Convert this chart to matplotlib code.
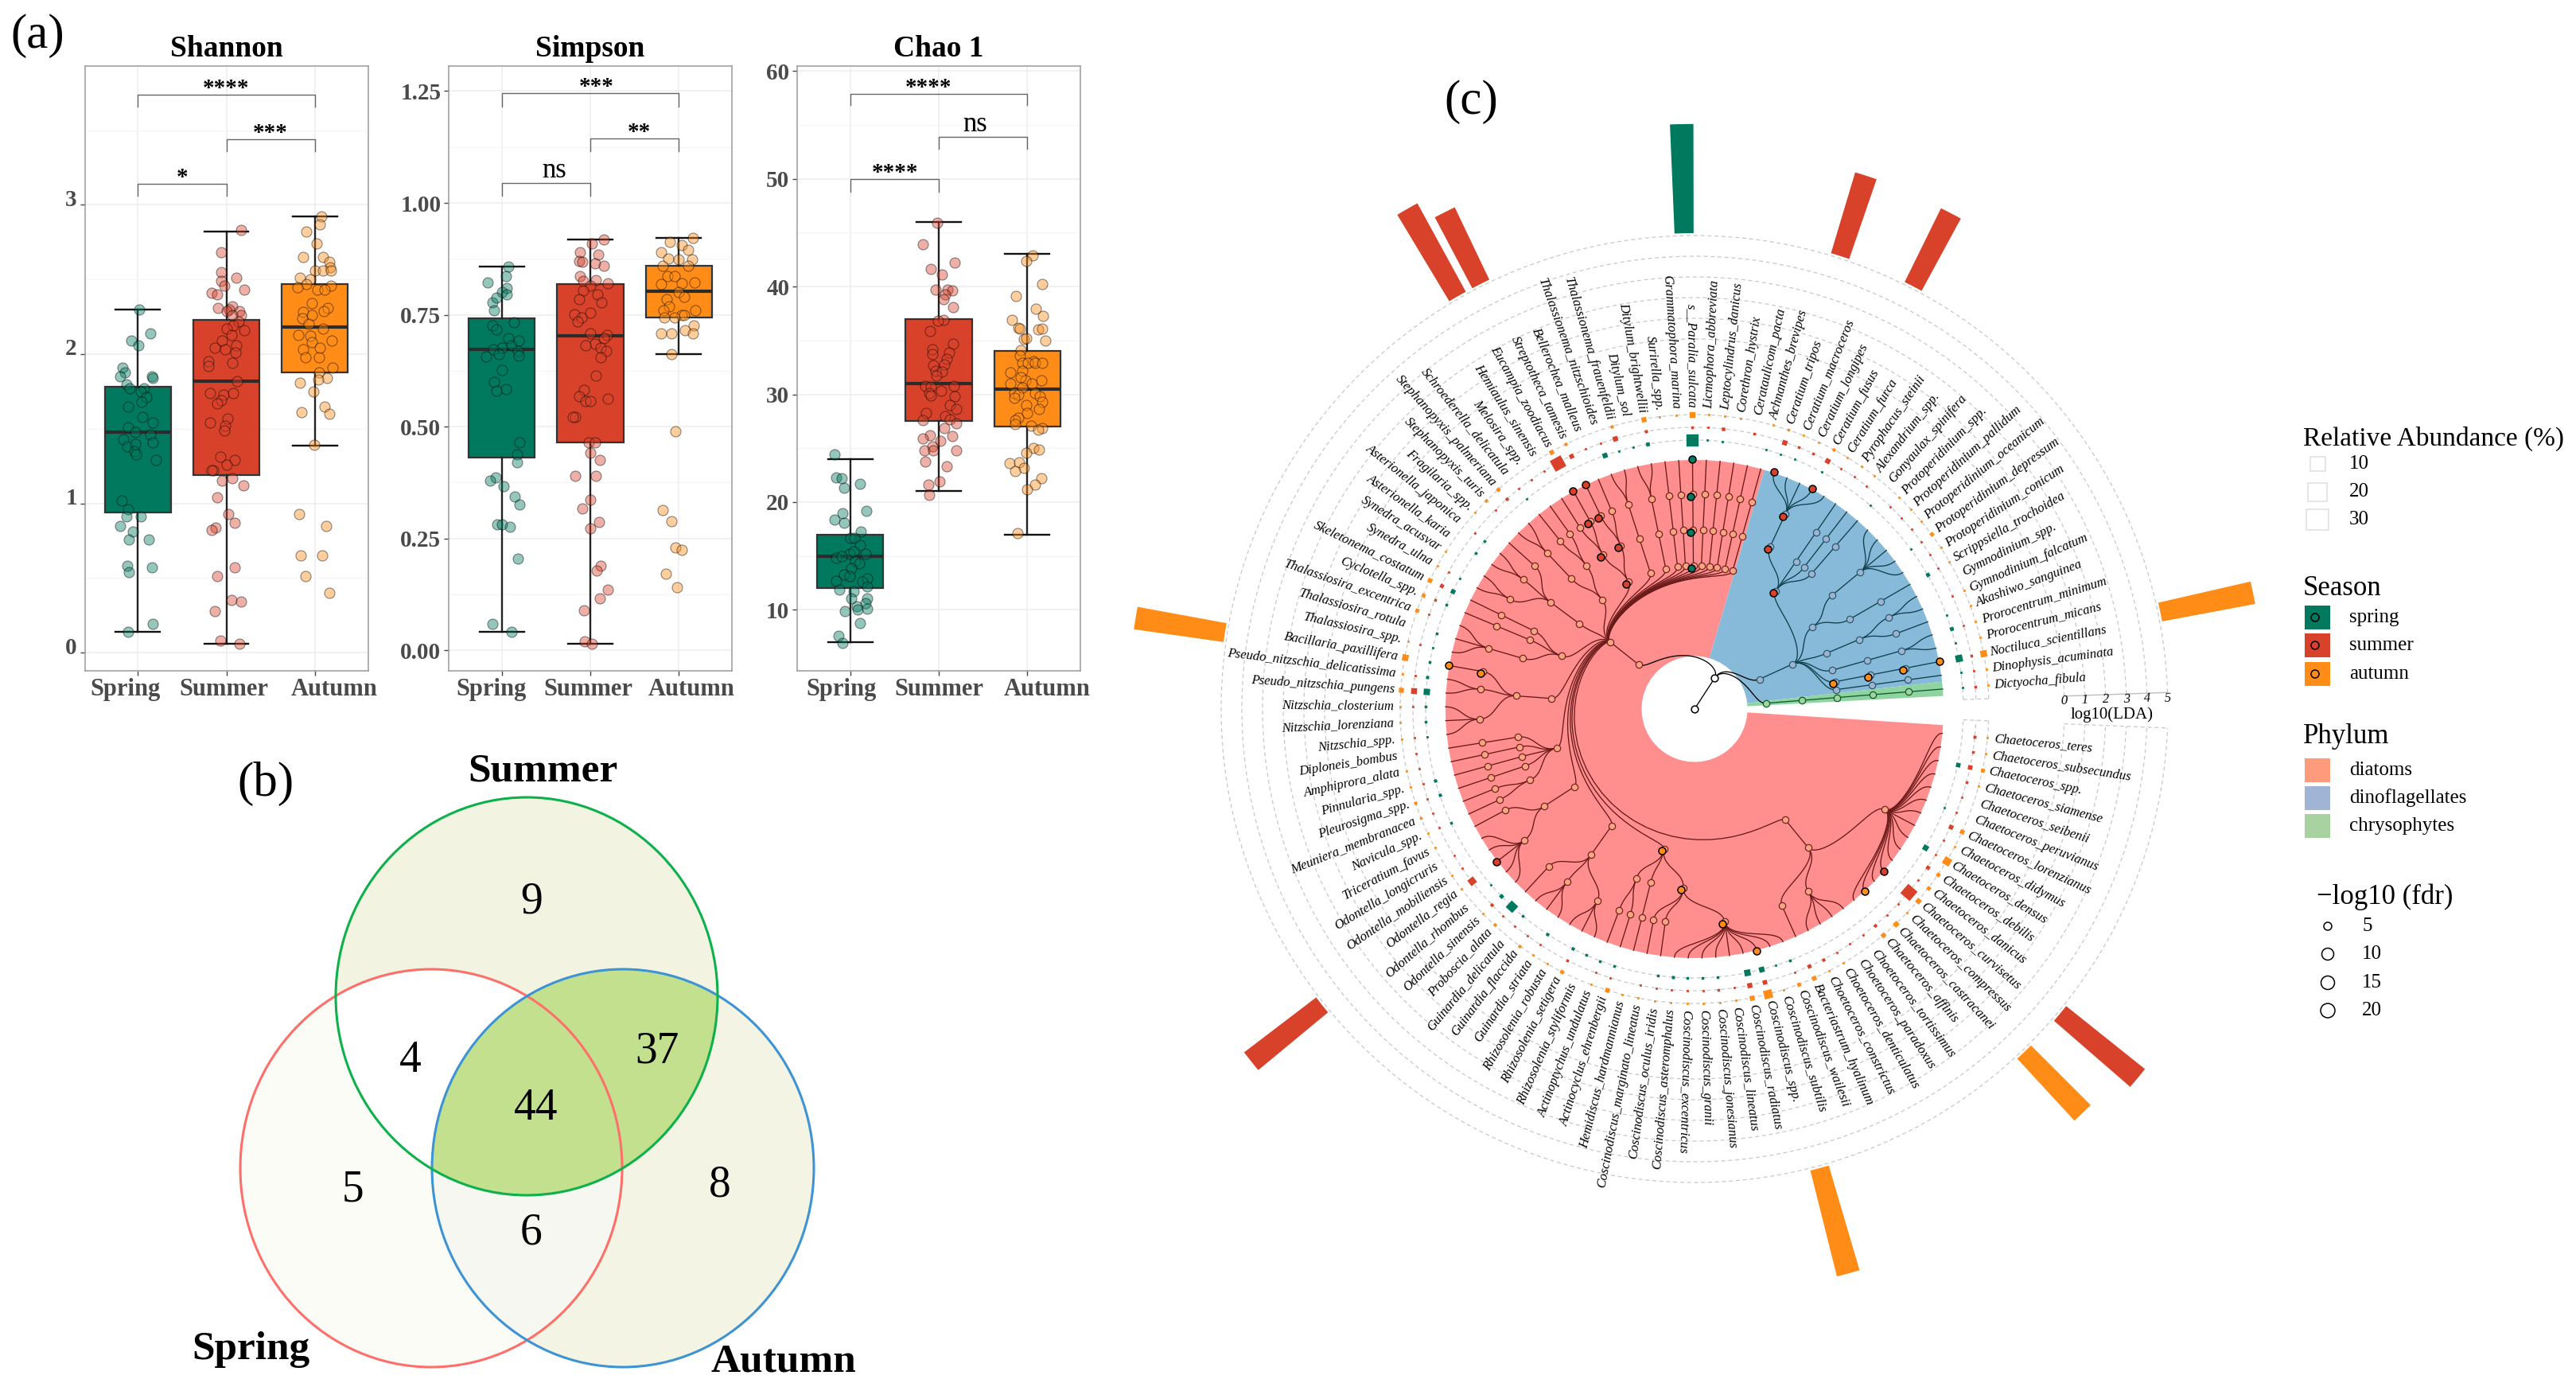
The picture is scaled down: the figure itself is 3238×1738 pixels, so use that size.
import numpy as np
import matplotlib
matplotlib.use('Agg')
import matplotlib.pyplot as plt
from matplotlib.colors import to_rgba
from matplotlib.patches import Wedge, Ellipse, Rectangle, Circle
from matplotlib.transforms import ScaledTranslation

plt.rcParams['font.family'] = ['Liberation Serif', 'DejaVu Sans']

W, H = 3238, 1738

# ---------- (a) values ----------
seasons = ['Spring', 'Summer', 'Autumn']
season_colors = ['#00795F', '#D8422B', '#FF8C17']

# q1, median, q3, lower whisker, upper whisker
shannon_box = [[0.94, 1.48, 1.78, 0.14, 2.30], [1.19, 1.82, 2.23, 0.06, 2.82], [1.88, 2.18, 2.47, 1.385, 2.92]]
simpson_box = [[0.431, 0.672, 0.742, 0.041, 0.857], [0.465, 0.703, 0.819, 0.015, 0.918], [0.743, 0.803, 0.859, 0.662, 0.922]]
chao_box = [[12, 15, 17, 7, 24], [27.5, 31, 37, 21, 46], [27, 30.5, 34, 17, 43]]

shannon_spring = [2.30, 2.14, 2.09, 2.06, 1.91, 1.88, 1.85, 1.85, 1.84, 1.80, 1.77, 1.77, 1.75, 1.71, 1.68, 1.65, 1.58, 1.54, 1.51, 1.46, 1.48, 1.43, 1.41, 1.38, 1.40, 1.35, 1.33, 1.29, 1.02, .96, .91, .91, .85, .81, .76, .76, .58, .57, .54, .14, .19]
shannon_spring_dx = [.02, .14, -.07, .01, -.17, -.15, -.2, .16, .17, -.13, -.09, .07, .03, .1, .04, -.11, .05, .17, -.11, .14, -.03, -.16, .17, -.12, -.03, -.04, -.02, .2, -.18, -.11, -.13, .03, -.2, -.06, .12, -.1, -.12, .16, -.1, -.11, .17]
shannon_summer = [2.83, 2.68, 2.55, 2.51, 2.49, 2.46, 2.43, 2.41, 2.40, 2.31, 2.32, 2.30, 2.29, 2.29, 2.26, 2.26, 2.22, 2.19, 2.17, 2.16, 2.13, 2.09, 2.06, 2.04, 2.03, 2.01, 1.95, 1.92, 1.94, 1.82, 1.74, 1.73, 1.74, 1.69, 1.67, 1.57, 1.54, 1.52, 1.49, 1.31, 1.22, 1.22, 1.29, 1.26, 1.15, 1.17, 1.12, 1.04, .93, .87, .84, .82, .57, .51, .35, .34, .28, .08, .06]
shannon_summer_dx = [.17, -.06, -.06, .11, -.06, -.02, .2, -.17, -.1, -.09, .07, .03, 0, .15, .17, .07, .14, .08, 0, .2, .06, -.05, .11, -.13, -.01, .1, -.2, -.2, .07, .12, -.18, -.03, .08, -.06, -.1, .01, -.18, -.01, -.02, -.07, -.15, -.17, .09, 0, -.05, .07, .19, -.1, .02, .09, -.12, -.17, .09, -.1, .06, .17, -.13, -.07, .15]
shannon_autumn = [2.92, 2.87, 2.82, 2.74, 2.65, 2.65, 2.62, 2.58, 2.56, 2.56, 2.56, 2.51, 2.50, 2.47, 2.45, 2.46, 2.43, 2.43, 2.34, 2.31, 2.28, 2.29, 2.26, 2.24, 2.20, 2.17, 2.13, 2.12, 2.09, 2.08, 2.03, 1.98, 1.98, 2.04, 1.91, 1.88, 1.81, 1.84, 1.83, 1.75, 1.65, 1.61, 1.60, 1.39, .93, .85, .65, .65, .51, .40]
shannon_autumn_dx = [.07, .06, -.1, .02, -.13, .09, .16, .17, 0, .09, .18, -.17, -.05, -.1, -.2, .18, .03, .11, -.03, .15, -.13, .10, -.03, -.14, -.07, .09, -.19, -.05, .19, -.03, -.13, .05, -.11, .06, .20, .05, -.17, .14, .04, -.02, .11, -.15, .16, -.01, -.18, .13, -.16, .08, -.11, .16]

simpson_spring = [.858, .837, .822, .81, .80, .777, .788, .795, .759, .733, .726, .718, .698, .682, .693, .677, .672, .669, .657, .662, .659, .626, .599, .583, .58, .465, .437, .42, .386, .379, .367, .343, .325, .282, .281, .276, .205, .059, .041]
simpson_spring_dx = [.07, .05, -.16, .06, 0, -.11, -.06, .06, -.09, .14, -.11, -.06, .07, .11, .19, 0, -.10, .18, -.18, -.03, .19, 0, -.09, .05, -.06, .2, .17, .17, -.07, -.13, .02, .15, .2, -.05, 0, .09, .18, -.11, .11]
simpson_summer = [.919, .909, .889, .885, .871, .869, .864, .859, .836, .827, .825, .82, .815, .805, .795, .784, .777, .751, .754, .744, .735, .705, .708, .698, .685, .682, .677, .669, .655, .614, .582, .568, .557, .557, .563, .522, .522, .465, .465, .442, .425, .39, .39, .337, .317, .286, .272, .189, .179, .136, .115, .089, .02, .015]
simpson_summer_dx = [.15, .02, -.12, .09, -.13, -.09, .05, .15, -.12, .06, -.08, .2, 0, -.08, .08, -.13, .13, -.18, 0, -.1, -.14, .19, 0, .15, .05, -.05, .12, .18, .12, .06, -.07, -.13, -.05, 0, .2, -.17, -.2, -.02, .05, 0, .11, -.17, .06, 0, -.09, .1, 0, .12, .07, .2, .11, -.07, -.06, .02]
simpson_autumn = [.922, .912, .905, .889, .895, .876, .874, .874, .859, .859, .836, .836, .82, .818, .823, .784, .80, .79, .769, .759, .759, .749, .744, .744, .749, .726, .708, .708, .716, .708, .662, .489, .314, .289, .23, .225, .171, .14]
simpson_autumn_dx = [.16, -.1, .03, -.2, .11, -.12, 0, .15, -.18, .11, -.13, -.05, .03, -.2, .18, -.14, 0, .06, -.11, .19, -.17, .03, -.16, -.05, .06, .17, -.2, -.08, .07, .16, -.08, -.04, -.18, -.08, -.04, .03, -.15, -.02]

chao_spring = [24.4, 22.3, 22.2, 21.3, 21.7, 19.0, 19.2, 18.4, 18.1, 17.3, 16.7, 16.7, 16.0, 15.2, 15.4, 15.2, 14.8, 15.0, 14.5, 14.3, 13.9, 13.3, 13.1, 12.7, 12.9, 12.6, 12.2, 11.9, 11.7, 11.1, 11.1, 10.6, 10.3, 10.1, 10.0, 9.9, 8.8, 7.6, 6.9]
chao_spring_dx = [-.18, -.16, -.10, -.07, .11, -.09, .18, -.18, -.07, .12, 0, .05, .11, -.01, .04, .17, -.16, -.10, .06, .10, .01, -.07, -.01, -.16, .19, .14, .19, -.12, .04, .01, .19, .17, .07, .19, .08, -.06, .11, -.13, -.09]
chao_summer = [45.9, 43.9, 42.2, 41.6, 41.1, 39.7, 39.7, 39.6, 39.3, 38.8, 38.1, 36.9, 36.8, 35.9, 34.7, 34.2, 33.9, 33.7, 33.3, 32.8, 32.7, 32.2, 32.1, 31.7, 30.8, 30.7, 30.8, 30.3, 30.1, 29.9, 29.8, 29.0, 28.6, 28.3, 28.0, 27.7, 27.6, 27.3, 26.9, 26.2, 26.1, 25.9, 25.7, 25.2, 24.8, 24.8, 24.8, 23.8, 23.3, 21.9, 21.6, 20.7]
chao_summer_dx = [-.02, -.18, .18, -.09, .04, -.04, .10, .15, .07, .05, .16, .05, -.01, -.10, .16, -.07, .12, -.07, .09, .06, -.06, -.04, .04, -.03, -.15, -.09, .17, .03, -.11, -.09, .18, .13, .20, -.14, .07, .13, -.18, .20, .06, -.10, .15, -.18, .02, -.07, -.16, -.06, .20, -.15, .09, .01, -.12, -.11]
chao_autumn = [42.9, 42.4, 40.2, 39.1, 37.9, 37.3, 36.9, 36.2, 36.1, 36.0, 36.1, 35.1, 35.2, 35.0, 34.1, 33.6, 33.1, 32.9, 32.9, 32.9, 32.9, 32.2, 32.0, 31.3, 31.6, 31.3, 31.0, 31.0, 30.6, 30.1, 30.0, 30.1, 29.8, 29.7, 29.3, 29.0, 28.6, 28.3, 27.8, 27.6, 27.1, 27.2, 26.9, 26.7, 25.0, 24.6, 24.9, 23.6, 23.7, 23.2, 22.9, 22.2, 21.6, 21.2, 17.1]
chao_autumn_dx = [.06, -.01, .17, -.13, .10, .18, -.17, -.10, -.08, .12, .17, -.04, -.01, .20, -.07, -.08, .07, -.06, .01, .09, .17, -.06, -.19, -.02, -.07, .16, -.19, .05, -.06, -.15, -.10, .09, .14, -.15, .17, -.01, .13, 0, -.10, -.14, .04, -.14, .17, .12, .07, -.01, .13, -.20, -.09, -.04, -.14, .16, .09, 0, -.11]

# ---------- (b) counts ----------
venn_counts = ['9', '4', '37', '44', '5', '6', '8']

# ---------- (c) species going round from the gap, anticlockwise ----------
species = ['Dictyocha_fibula', 'Dinophysis_acuminata', 'Noctiluca_scientillans', 'Prorocentrum_micans', 'Prorocentrum_minimum',
           'Akashiwo_sanguinea', 'Gymnodinium_falcatum', 'Gymnodinium_spp.', 'Scrippsiella_trochoidea', 'Protoperidinium_conicum',
           'Protoperidinium_depressum', 'Protoperidinium_oceanicum', 'Protoperidinium_pallidum', 'Protoperidinium_spp.', 'Gonyaulax_spinifera',
           'Alexandrium_spp.', 'Pyrophacus_steinii', 'Ceratium_furca', 'Ceratium_fusus', 'Ceratium_longipes',
           'Ceratium_macroceros', 'Ceratium_tripos', 'Achnanthes_brevipes', 'Cerataulicom_pacta', 'Corethron_hystrix',
           'Leptocylindrus_danicus', 'Licmophora_abbreviata', 's__Paralia_sulcata', 'Grammatophora_marina', 'Surirella_spp.',
           'Ditylum_brightwellii', 'Ditylum_sol', 'Thalassionema_frauenfeldii', 'Thalassionema_nitzschioides', 'Bellerochea_malleus',
           'Streptotheca_tamesis', 'Eucampia_zoodiacus', 'Hemiaulus_sinensis', 'Melosira_spp.', 'Schroederella_delicatula',
           'Stephanopyxis_palmeriana', 'Stephanopyxis_turis', 'Fragilaria_spp.', 'Asterionella_japonica', 'Asterionella_karia',
           'Synedra_acusvar', 'Synedra_ulna', 'Skeletonema_costatum', 'Cyclotella_spp.', 'Thalassiosira_excentrica',
           'Thalassiosira_rotula', 'Thalassiosira_spp.', 'Bacillaria_paxillifera', 'Pseudo_nitzschia_delicatissima', 'Pseudo_nitzschia_pungens',
           'Nitzschia_closterium', 'Nitzschia_lorenziana', 'Nitzschia_spp.', 'Diploneis_bombus', 'Amphiprora_alata',
           'Pinnularia_spp.', 'Pleurosigma_spp.', 'Meuniera_membranacea', 'Navicula_spp.', 'Triceratium_favus',
           'Odontella_longicruris', 'Odontella_mobiliensis', 'Odontella_regia', 'Odontella_rhombus', 'Odontella_sinensis',
           'Proboscia_alata', 'Guinardia_delicatula', 'Guinardia_flaccida', 'Guinardia_striata', 'Rhizosolenia_robusta',
           'Rhizosolenia_setigera', 'Rhizosolenia_styliformis', 'Actinoptychus_undulatus', 'Actinocyclus_ehrenbergii', 'Hemidiscus_hardmannianus',
           'Coscinodiscus_marginato_lineatus', 'Coscinodiscus_oculus_iridis', 'Coscinodiscus_asteromphalus', 'Coscinodiscus_excentricus', 'Coscinodiscus_granii',
           'Coscinodiscus_jonesianus', 'Coscinodiscus_lineatus', 'Coscinodiscus_radiatus', 'Coscinodiscus_spp.', 'Coscinodiscus_subtilis',
           'Coscinodiscus_wailesii', 'Bacteriastrum_hyalinum', 'Choetoceros_constrictus', 'Choetoceros_denticulatus', 'Choetoceros_paradoxus',
           'Choetoceros_tortissimus', 'Chaetoceros_affinis', 'Chaetoceros_castracanei', 'Chaetoceros_compressus', 'Chaetoceros_curvisetus',
           'Chaetoceros_danicus', 'Chaetoceros_debilis', 'Chaetoceros_densus', 'Chaetoceros_didymus', 'Chaetoceros_lorenzianus',
           'Chaetoceros_peruvianus', 'Chaetoceros_seibenii', 'Chaetoceros_siamense', 'Chaetoceros_spp.', 'Chaetoceros_subsecundus',
           'Chaetoceros_teres']

# relative abundance of each species per season (0 = no square)
abund_spring = [1, 1, 10, 1, 3, 1, 0, 0, 3, 0,
                1, 0, 0, 0, 1, 0, 0, 0, 1, 0,
                1, 1, 1, 0, 0, 1, 1, 30, 0, 0,
                3, 1, 1, 5, 0, 0, 0, 0, 0, 1,
                0, 0, 0, 1.5, 1.5, 0, 1, 4, 1.5, 0,
                1.5, 1, 1.5, 2, 8, 1.5, 1.5, 1, 0, 0,
                2, 2, 0, 1.5, 0, 0, 0, 0, 1, 3,
                16, 1.5, 0, 2, 0, 2, 1.5, 1.5, 1.5, 0,
                0, 1.5, 2, 1.5, 1.5, 1.5, 0, 8, 6, 1,
                1.5, 0, 0, 0, 0, 0, 0, 0, 0, 0,
                0, 0, 6, 0, 0, 1, 0, 0, 4, 0, 0]
abund_summer = [1.5, 1, 1.5, 0, 1, 0, 1, 0, 1, 1,
                1, 1, 1, 1, 0, 1, 1, 1, 5, 1.5,
                1.5, 5, 0, 1.5, 0, 2.5, 1, 1.5, 0, 0,
                2, 0, 5, 1, 1, 4, 30, 1, 1, 1,
                2, 1, 0, 1, 0, 0, 1, 3, 1.5, 1,
                0, 1, 0, 1, 7, 1, 0, 1, 1, 1,
                1, 1, 1, 1, 0, 1, 1, 10, 0, 2,
                1, 1, 1, 1, 0, 1.5, 0, 1, 1, 0,
                1, 1, 1, 1, 1, 1.5, 1, 5, 4, 0,
                1, 3, 2, 1, 1, 1, 2, 1, 1, 30,
                1, 3, 1, 1, 4, 1, 1, 1.5, 4, 1.5, 2]
abund_autumn = [1, 1, 9, 1, 1, 1, 1, 0, 1, 1,
                3, 1, 1, 1, 0, 1, 1, 1, 2, 1,
                1, 1.5, 1, 0, 1, 1, 1, 7, 1, 1,
                5, 0, 2, 0, 0, 2, 4, 0, 0, 0,
                3, 2, 1, 0, 0, 1, 1, 4, 3, 3,
                0, 1, 8, 1, 5, 1, 1, 1, 0, 1,
                1, 2, 1.5, 1, 1, 0, 1, 1, 0, 1,
                2, 0, 2, 1, 1, 3, 0, 1, 4, 1,
                1, 1, 1, 1, 1, 1, 1, 5, 15, 1,
                3, 4, 1, 1, 0, 0, 4, 5, 1, 5,
                3, 3, 12, 1, 4, 0, 0, 1, 3, 1, 1]

# outer LDA bars
bar_species = [3, 19, 22, 28, 36, 37, 53, 68, 89, 98, 100]
bar_season = [2, 1, 1, 0, 1, 1, 2, 1, 2, 2, 1]
bar_lda = [4.5, 3.9, 4.0, 5.2, 3.8, 4.8, 4.3, 4.3, 5.2, 4.0, 4.8]

# taxonomy: phylum > class > order > family > genus > species number
chryso_tree = [[[[[1]]]]]
dino_tree = [[
    [[[2]]], [[[3]]], [[[4, 5]]], [[[6], [7, 8]]],
    [[[9]], [[10, 11, 12, 13, 14]]],
    [[[15]], [[16]], [[17]], [[18, 19, 20, 21, 22]]],
]]
diatom_tree = [[
    [[[23]]], [[[24]]], [[[25]]], [[[26]]], [[[27]]], [[[28]]], [[[29]]], [[[30]]],
    [[[31, 32]]], [[[33, 34]]],
    [[[35], [36]], [[37], [38]]],
    [[[39], [40]], [[41, 42]]],
    [[[43], [44, 45], [46, 47]]],
    [[[48]], [[49]], [[50, 51, 52]]],
    [[[53], [54, 55], [56, 57, 58]]],
    [[[59]], [[60]], [[61]], [[62]], [[63], [64]]],
    [[[65], [66, 67, 68, 69, 70]]],
    [[[71], [72, 73, 74], [75, 76, 77]]],
    [[[78], [79]], [[80]], [[81], [82], [83, 84, 85, 86, 87, 88, 89, 90, 91]]],
    [[[92], [93, 94, 95, 96], [97, 98, 99, 100, 101, 102, 103, 104, 105, 106, 107, 108, 109, 110, 111]]],
]]

# significant nodes as (first species, last species, depth)
sig_spring = [(28, 28, 4), (28, 28, 5), (28, 28, 6), (28, 28, 7)]
sig_summer = [(15, 22, 4), (18, 22, 5), (18, 22, 6), (19, 19, 7), (22, 22, 7), (35, 38, 4), (35, 36, 5), (37, 38, 5),
              (36, 36, 6), (37, 37, 6), (36, 36, 7), (37, 37, 7), (68, 68, 7), (100, 100, 7)]
sig_autumn = [(3, 3, 4), (3, 3, 5), (3, 3, 6), (3, 3, 7), (53, 53, 6), (53, 53, 7), (78, 91, 4), (81, 91, 5),
              (83, 91, 6), (89, 89, 7), (98, 98, 7)]

fig = plt.figure(figsize=(W / 100, H / 100), dpi=100)

# full page axes in pixels, for the venn, legends and panel letters
ax_px = fig.add_axes([0, 0, 1, 1])
ax_px.set_xlim(0, W)
ax_px.set_ylim(H, 0)
ax_px.axis('off')


def box_panel(left, title, box, points, dx, ylim, ticks, minor, fmt, label_dx, brackets, marks, lift=0):
    a = fig.add_axes([left / W, 1 - 843 / H, 356 / W, 760 / H])
    a.set_xlim(0.4, 3.6)
    a.set_ylim(*ylim)
    a.set_axisbelow(True)
    a.grid(True, which='major', color='#EDEDED', lw=1.1)
    a.set_yticks(minor, minor=True)
    a.grid(True, which='minor', axis='y', color='#F4F4F4', lw=0.8)
    a.tick_params(which='minor', length=0)
    stats = [dict(q1=b[0], med=b[1], q3=b[2], whislo=b[3], whishi=b[4], fliers=[]) for b in box]
    art = a.bxp(stats, positions=[1, 2, 3], widths=0.75, capwidths=0.5, patch_artist=True, showfliers=False,
                boxprops=dict(edgecolor='#333333', linewidth=1.6),
                medianprops=dict(color='#2B2B2B', linewidth=3),
                whiskerprops=dict(color='#222222', linewidth=1.7),
                capprops=dict(color='#111111', linewidth=1.7), manage_ticks=False)
    for i, b in enumerate(art['boxes']):
        b.set_facecolor(season_colors[i])
    for i in range(3):
        a.scatter(i + 1 + np.array(dx[i]), points[i], s=88, facecolors=[to_rgba(season_colors[i], 0.42)],
                  edgecolors=[(0, 0, 0, 0.45)], linewidths=0.8, zorder=5)
    a.set_yticks(ticks)
    a.set_yticklabels([fmt % t for t in ticks], fontsize=21, fontweight='bold', color='#4A4A4A')
    a.set_xticks([1, 2, 3])
    a.set_xticklabels([])
    a.tick_params(axis='both', which='major', length=4, width=1, color='#444444', pad=3)
    if lift:
        # the tick numbers of this panel sit a little above their ticks
        for lab in a.get_yticklabels():
            lab.set_transform(lab.get_transform() + ScaledTranslation(0, lift / 100, fig.dpi_scale_trans))
    for s in a.spines.values():
        s.set_color('#9A9A9A')
        s.set_linewidth(1.1)
    trans = a.get_xaxis_transform()
    for i, name in enumerate(seasons):
        a.text(i + 1 + label_dx[i], -0.031, name, transform=trans, ha='center', va='center',
               fontsize=22, fontweight='bold', color='#4A4A4A')
    a.text(2, 1.028, title, transform=trans, ha='center', va='center', fontsize=27, fontweight='bold')
    for (x0, x1, top, tip), (tx, ty, txt) in zip(brackets, marks):
        a.plot([x0, x0, x1, x1], [tip, top, top, tip], color='#666666', lw=1.0, zorder=3)
        if txt == 'ns':
            a.text(tx, ty, txt, ha='center', va='baseline', fontsize=25)
        else:
            a.text(tx, ty, txt, ha='center', va='baseline', fontsize=21, fontweight='bold')
    return a


box_panel(106.5, 'Shannon', shannon_box, [shannon_spring, shannon_summer, shannon_autumn],
          [shannon_spring_dx, shannon_summer_dx, shannon_autumn_dx], (-0.122, 3.93),
          [0, 1, 2, 3], [0.5, 1.5, 2.5, 3.5], '%d', [-0.14, -0.03, 0.22],
          [(1, 3, 3.74, 3.66), (2, 3, 3.44, 3.36), (1, 2, 3.14, 3.06)],
          [(2.0, 3.74, '****'), (2.5, 3.44, '***'), (1.5, 3.14, '*')], lift=9)
box_panel(564, 'Simpson', simpson_box, [simpson_spring, simpson_summer, simpson_autumn],
          [simpson_spring_dx, simpson_summer_dx, simpson_autumn_dx], (-0.046, 1.306),
          [0, 0.25, 0.5, 0.75, 1.0, 1.25], [0.125, 0.375, 0.625, 0.875, 1.125], '%.2f', [-0.12, -0.02, 0.14],
          [(1, 3, 1.245, 1.216), (2, 3, 1.145, 1.116), (1, 2, 1.045, 1.016)],
          [(2.07, 1.245, '***'), (2.55, 1.145, '**'), (1.59, 1.057, 'ns')])
box_panel(1002, 'Chao 1', chao_box, [chao_spring, chao_summer, chao_autumn],
          [chao_spring_dx, chao_summer_dx, chao_autumn_dx], (4.35, 60.45),
          [10, 20, 30, 40, 50, 60], [15, 25, 35, 45, 55], '%d', [-0.1, 0, 0.22],
          [(1, 3, 57.9, 56.8), (2, 3, 53.9, 52.8), (1, 2, 50, 48.8)],
          [(1.88, 57.9, '****'), (2.41, 54.4, 'ns'), (1.51, 50, '****')])

for txt, x, y in [('(a)', 47, 45), ('(b)', 334, 985), ('(c)', 1849, 128)]:
    ax_px.text(x, y, txt, ha='center', va='center', fontsize=44)

# ---------- (b) venn ----------
centers = {'summer': (662, 1252), 'spring': (542, 1468), 'autumn': (783, 1468)}
vw, vh = 480, 500


def venn_shape(name, **kw):
    return Ellipse(centers[name], vw, vh, **kw)


for name, col in [('spring', '#FBFCF6'), ('autumn', '#F3F4E3'), ('summer', '#F2F3E0')]:
    ax_px.add_patch(venn_shape(name, fc=col, ec='none', zorder=1))
for name, clip, col in [('autumn', 'spring', '#F6F7F0'), ('spring', 'summer', '#FFFFFF'), ('autumn', 'summer', '#C2E08E')]:
    p = venn_shape(name, fc=col, ec='none', zorder=2)
    ax_px.add_patch(p)
    c = venn_shape(clip, fc='none', ec='none')
    ax_px.add_patch(c)
    p.set_clip_path(c)
for name, col in [('spring', '#FF6F6A'), ('autumn', '#3D93D4'), ('summer', '#0DB14B')]:
    ax_px.add_patch(venn_shape(name, fc='none', ec=col, lw=2.2, zorder=4))
count_pos = [(668, 1134), (516, 1333), (826, 1321), (674, 1393), (443, 1496), (667, 1550), (905, 1489)]
for txt, (x, y) in zip(venn_counts, count_pos):
    ax_px.text(x, y, txt, ha='center', va='center', fontsize=40, zorder=5)
ax_px.text(682, 970, 'Summer', ha='center', va='center', fontsize=37, fontweight='bold')
ax_px.text(315, 1696, 'Spring', ha='center', va='center', fontsize=37, fontweight='bold')
ax_px.text(985, 1712, 'Autumn', ha='center', va='center', fontsize=37, fontweight='bold')

# ---------- (c) circular tree, one data unit is one pixel ----------
cx, cy = 2130, 891
ax_c = fig.add_axes([0, 0, 1, 1])
ax_c.set_xlim(-cx, W - cx)
ax_c.set_ylim(-(H - cy), cy)
ax_c.axis('off')


def pol(r, deg):
    t = np.radians(deg)
    return r * np.cos(t), r * np.sin(t)


angles = 4.6 + 3.18 * np.arange(len(species))
levels = [0, 46, 90, 135, 180, 225, 270, 313]
ring_spring, ring_summer, ring_autumn = 338, 354, 370
lda_r0, lda_step = 465, 26

# sectors behind the tree
for t1, t2, col in [(73.7, 356.3, '#FF8F8F'), (6.3, 73.7, '#87BAD9'), (3.0, 6.3, '#8FD3A0')]:
    ax_c.add_patch(Wedge((0, 0), 313, t1, t2, width=313 - 66.5, fc=col, ec='none', zorder=1))

# dashed guide rings
guide = np.linspace(2.0, 357.7, 700)
dash = dict(color='#C8C8C8', lw=0.9, ls=(0, (4, 3)), zorder=1)
inner_rings = [ring_spring, ring_summer, ring_autumn]
outer_rings = [lda_r0 + lda_step * k for k in range(6)]
for r in inner_rings + outer_rings:
    ax_c.plot(*pol(r, guide), **dash)
for t in (2.0, 357.7):
    ax_c.plot(*pol(np.array([inner_rings[0], inner_rings[-1]]), t), **dash)
ax_c.plot(*pol(np.array([outer_rings[0], outer_rings[-1]]), 357.7), **dash)

# LDA scale
ax_c.plot(*pol(np.array([outer_rings[0], outer_rings[-1]]), 2.0), color='#BDBDBD', lw=1.0, zorder=1)
for k, r in enumerate(outer_rings):
    x, y = pol(r, 1.3)
    ax_c.text(x, y, str(k), ha='center', va='center', rotation=2, style='italic', fontsize=12)
ax_c.text(525, -7, 'log10(LDA)', ha='center', va='center', fontsize=15)

edges = []
nodes = []


def walk(node, depth, colour):
    if isinstance(node, int):
        nodes.append((angles[node - 1], depth, node, node, colour))
        return angles[node - 1], node, node
    kids = [walk(k, depth + 1, colour) for k in node]
    ang = np.mean([k[0] for k in kids])
    first, last = kids[0][1], kids[-1][2]
    for k in kids:
        edges.append((ang, depth, k[0], depth + 1, colour))
    nodes.append((ang, depth, first, last, colour))
    return ang, first, last


phyla = [(chryso_tree, 0), (dino_tree, 1), (diatom_tree, 2)]
branch_cols = ['#0B5E2C', '#12404E', '#6B1A1A']
node_cols = ['#9FD49F', '#9DB4D0', '#F4A582']
node_edges = ['#0D5E2D', '#2B5A72', '#7A2222']
kingdom_kids = [walk(tree, 2, col) for tree, col in phyla]
kingdom = np.mean([k[0] for k in kingdom_kids])
for k in kingdom_kids:
    edges.append((kingdom, 1, k[0], 2, None))

# branches are cubic curves in the (angle, radius) plane
u = np.linspace(0, 1, 40)
for a0, d0, a1, d1, col in edges:
    r0, r1 = levels[d0], levels[d1]
    rm = (r0 + r1) / 2
    th = (1 - u) ** 3 * a0 + 3 * (1 - u) ** 2 * u * a0 + 3 * (1 - u) * u ** 2 * a1 + u ** 3 * a1
    rr = (1 - u) ** 3 * r0 + 3 * (1 - u) ** 2 * u * rm + 3 * (1 - u) * u ** 2 * rm + u ** 3 * r1
    ax_c.plot(*pol(rr, th), color='black' if col is None else branch_cols[col], lw=0.95, zorder=2)
ax_c.plot(*pol(np.array([0, levels[1]]), kingdom), color='black', lw=0.95, zorder=2)
for r in (0, levels[1]):
    x, y = pol(r, kingdom)
    ax_c.scatter(x, y, s=40, fc='white', ec='black', lw=1.1, zorder=4)

sig = {}
for season, items in enumerate([sig_spring, sig_summer, sig_autumn]):
    for it in items:
        sig[it] = season
for ang, depth, first, last, col in nodes:
    x, y = pol(levels[depth], ang)
    season = sig.get((first, last, depth))
    if depth == 7:
        if season is not None:
            xs, ys = pol(314, ang)
            ax_c.scatter(xs, ys, s=42, fc=season_colors[season], ec='black', lw=1.1, zorder=5)
        continue
    ax_c.scatter(x, y, s=36, fc=node_cols[col], ec=node_edges[col], lw=0.9, zorder=3)
    if season is not None:
        ax_c.scatter(x - 3, y - 2.5, s=42, fc=season_colors[season], ec='black', lw=1.1, zorder=5)

# abundance squares on the three inner rings
for ring, abund, col in [(ring_spring, abund_spring, season_colors[0]),
                         (ring_summer, abund_summer, season_colors[1]),
                         (ring_autumn, abund_autumn, season_colors[2])]:
    for ang, a in zip(angles, abund):
        if a == 0:
            continue
        side = 2.8 * np.sqrt(a) * 0.72
        x, y = pol(ring, ang)
        ax_c.scatter(x, y, s=2 * side ** 2, marker=(4, 0, ang + 45), c=col, linewidths=0, zorder=3)

# species names
for ang, name in zip(angles, species):
    x, y = pol(378, ang)
    if 90 < ang < 267:
        ax_c.text(x, y, name, rotation=ang - 180, ha='right', va='center', rotation_mode='anchor',
                  style='italic', fontsize=12, zorder=6)
    else:
        ax_c.text(x, y, name, rotation=ang if ang < 90 else ang - 360, ha='left', va='center', rotation_mode='anchor',
                  style='italic', fontsize=12, zorder=6)

# outer bars sit a little anticlockwise of their species
for sp, season, lda in zip(bar_species, bar_season, bar_lda):
    rend = 600 + lda * lda_step
    ang = angles[sp - 1] + 0.8
    ax_c.add_patch(Wedge((0, 0), rend, ang - 1.15, ang + 1.15, width=rend - 598, fc=season_colors[season], ec='none', zorder=3))

# ---------- legends of (c) ----------
ax_px.set_zorder(3)
ax_px.text(2895, 551, 'Relative Abundance (%)', ha='left', va='center', fontsize=24)
for txt, y, w, h in [('10', 583, 19, 18), ('20', 618, 24, 23), ('30', 653, 28, 26)]:
    ax_px.add_patch(Rectangle((2913 - w / 2, y - h / 2), w, h, fc='white', ec='#E2E2E2', lw=1.2))
    ax_px.text(2953, y, txt, ha='left', va='center', fontsize=18)

ax_px.text(2895, 740, 'Season', ha='left', va='center', fontsize=25)
for i, (txt, y) in enumerate([('spring', 776), ('summer', 811), ('autumn', 847)]):
    ax_px.add_patch(Rectangle((2897, y - 15), 32, 30, fc=season_colors[i], ec='none'))
    ax_px.add_patch(Circle((2910, y), 5, fc='none', ec='black', lw=1.1))
    ax_px.text(2953, y, txt, ha='left', va='center', fontsize=18)

ax_px.text(2895, 925, 'Phylum', ha='left', va='center', fontsize=25)
for txt, y, col in [('diatoms', 968, '#FD9B7C'), ('dinoflagellates', 1003, '#A0B5D6'), ('chrysophytes', 1038, '#A8D3A0')]:
    ax_px.add_patch(Rectangle((2897, y - 15), 32, 30, fc=col, ec='none'))
    ax_px.text(2953, y, txt, ha='left', va='center', fontsize=18)

ax_px.text(2912, 1127, '\u2212log10 (fdr)', ha='left', va='center', fontsize=25)
for txt, y, d in [('5', 1164, 10), ('10', 1199, 15), ('15', 1235, 17), ('20', 1270, 18)]:
    ax_px.add_patch(Circle((2926, y), d / 2, fc='none', ec='black', lw=1.1))
    ax_px.text(2969, y, txt, ha='left', va='center', fontsize=18)

fig.savefig('out.png', dpi=100, facecolor='white')
